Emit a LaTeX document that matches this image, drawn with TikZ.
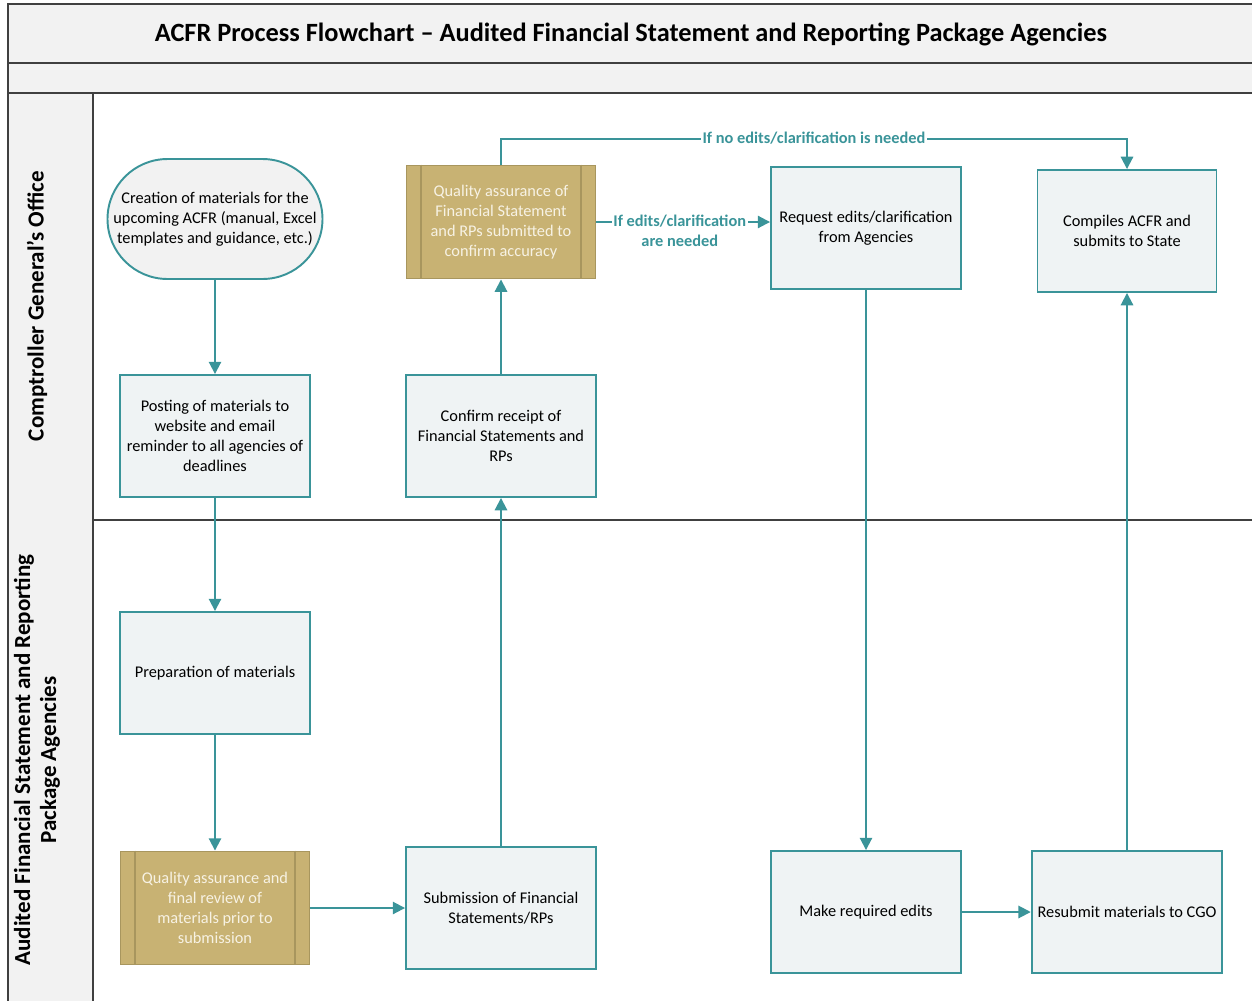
\documentclass[tikz,border=0pt]{standalone}
\usepackage{fontspec}
\setmainfont{Carlito}
\usetikzlibrary{arrows.meta, positioning}

\definecolor{laneGray}{HTML}{F2F2F2}
\definecolor{laneLine}{HTML}{404040}
\definecolor{flowTeal}{HTML}{3A9499}
\definecolor{boxFill}{HTML}{EFF3F4}
\definecolor{qaFill}{HTML}{C8B273}
\definecolor{qaLine}{HTML}{A8965E}
\definecolor{qaText}{HTML}{F7F2E4}

\begin{document}
\begin{tikzpicture}[
	x=0.02cm, y=-0.02cm,
	Lane/.style={draw=laneLine, line width=1.1pt, fill=laneGray},
	LaneLabel/.style={rotate=90, align=center, font=\fontsize{13.1}{14.7}\selectfont\bfseries},
	ProcBox/.style={rectangle, draw=flowTeal, line width=1.1pt, fill=boxFill,
		minimum width=3.8cm, minimum height=2.44cm, align=center,
		font=\fontsize{9.3}{11.3}\selectfont},
	StartNode/.style={rectangle, rounded corners=1.2cm, draw=flowTeal, line width=1.1pt,
		fill=laneGray, minimum width=4.3cm, minimum height=2.4cm, align=center,
		font=\fontsize{9.3}{11.3}\selectfont},
	QaBox/.style={rectangle, draw=qaLine, line width=1.1pt, fill=qaFill, text=qaText,
		minimum width=3.78cm, minimum height=2.26cm, align=center,
		font=\fontsize{9.3}{11.3}\selectfont},
	Flow/.style={draw=flowTeal, line width=1.1pt, -{Triangle[length=7pt, width=7pt]}},
	FlowLabel/.style={fill=white, text=flowTeal, align=center, inner sep=1pt,
		font=\fontsize{9.3}{11.3}\selectfont\bfseries}
	]

\useasboundingbox (0,0) rectangle (1252,1001);

% swimlane frame
\draw [Lane] (8,4) rectangle (1262,63);
\draw [Lane] (8,63) rectangle (1262,93);
\draw [Lane] (8,93) rectangle (93,1012);
\draw [draw=laneLine, line width=1.1pt] (93,520) -- (1262,520);
\draw [draw=laneLine, line width=1.1pt] (93,93) -- (1262,93);

\node [font=\fontsize{15}{18}\selectfont\bfseries] (title) at (631,34)
	{ACFR Process Flowchart – Audited Financial Statement and Reporting Package Agencies};
\node [LaneLabel] (cgo) at (37,306) {Comptroller General’s Office};
\node [LaneLabel] (agencies) at (37,760) {Audited Financial Statement and Reporting\\Package Agencies};

% steps
\node [StartNode] (start) at (215,219) {Creation of materials for the\\upcoming ACFR (manual, Excel\\templates and guidance, etc.)};
\node [ProcBox] (post) at (215,436) {Posting of materials to\\website and email\\reminder to all agencies of\\deadlines};
\node [ProcBox] (prep) at (215,673) {Preparation of materials};
\node [QaBox] (qa2) at (215,908) {Quality assurance and\\final review of\\materials prior to\\submission};
\node [ProcBox] (submit) at (501,908) {Submission of Financial\\Statements/RPs};
\node [ProcBox] (confirm) at (501,436) {Confirm receipt of\\Financial Statements and\\RPs};
\node [QaBox] (qa1) at (501,222) {Quality assurance of\\Financial Statement\\and RPs submitted to\\confirm accuracy};
\node [ProcBox] (request) at (866,228) {Request edits/clarification\\from Agencies};
\node [ProcBox] (edits) at (866,912) {Make required edits};
\node [ProcBox] (resubmit) at (1127,912) {Resubmit materials to CGO};
\node [ProcBox, minimum width=3.58cm] (compile) at (1127,231) {Compiles ACFR and\\submits to State};

% side bars of the predefined-process boxes
\foreach \q in {qa1, qa2} {
	\draw [qaLine, line width=1.1pt] ([xshift=0.3cm]\q.north west) -- ([xshift=0.3cm]\q.south west);
	\draw [qaLine, line width=1.1pt] ([xshift=-0.3cm]\q.north east) -- ([xshift=-0.3cm]\q.south east);
}

% connectors
\draw [Flow] (start) -- (post);
\draw [Flow] (post) -- (prep);
\draw [Flow] (prep) -- (qa2);
\draw [Flow] (qa2) -- (submit);
\draw [Flow] (submit) -- (confirm);
\draw [Flow] (confirm) -- (qa1);
\draw [Flow] (qa1.east) -- (request.west |- qa1.east)
	node [FlowLabel, pos=0.48, yshift=-0.17cm] (yeslbl) {If edits/clarification\\are needed};
\draw [Flow] (qa1.north) -- ++(0,-26) -| (compile.north)
	node [FlowLabel, pos=0.25] (nolbl) {If no edits/clarification is needed};
\draw [Flow] (request) -- (edits);
\draw [Flow] (edits) -- (resubmit);
\draw [Flow] (resubmit) -- (compile);

\end{tikzpicture}
\end{document}
